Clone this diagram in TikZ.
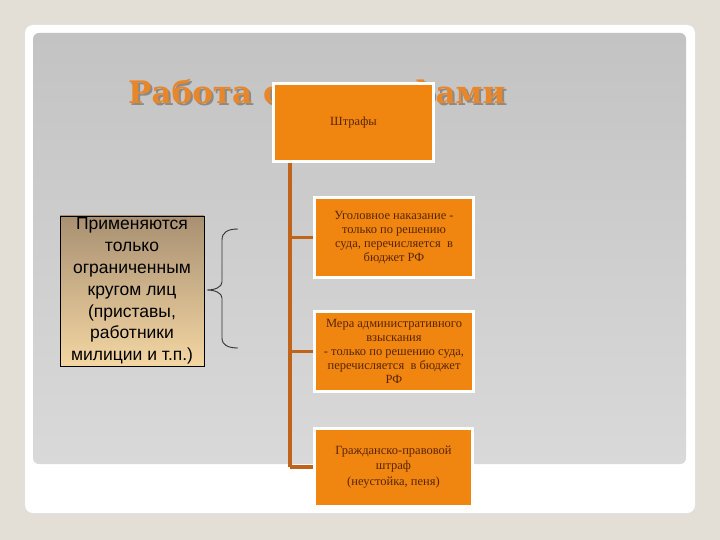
\documentclass[tikz,border=0pt]{standalone}
\usepackage{fontspec}
\setmainfont{Liberation Serif}
\newfontfamily\arialf{Liberation Sans}
\newfontfamily\titlef{DejaVu Serif}
\usetikzlibrary{calc}
\definecolor{bgout}{HTML}{E4DFD6}
\definecolor{panelTop}{HTML}{C3C3C3}
\definecolor{panelBot}{HTML}{D9D9D9}
\definecolor{boxOrange}{HTML}{F08510}
\definecolor{boxText}{HTML}{5A2600}
\definecolor{lineBrown}{HTML}{BF6418}
\definecolor{titleOrange}{HTML}{E8862A}
\definecolor{titleShadow}{HTML}{8A8A8A}
\definecolor{tanTop}{HTML}{A89072}
\definecolor{tanBot}{HTML}{F4D6A2}
\tikzset{
  obox/.style={draw=white, line width=3pt, fill=boxOrange, text=boxText,
    align=center, font=\fontsize{12.5}{14.2}\selectfont, inner sep=0pt},
  conn/.style={draw=lineBrown, line width=3.2pt},
  bracepath/.style={draw=black!80, line width=0.9pt},
  titletext/.style={font=\titlef\bfseries\fontsize{31}{36}\selectfont, anchor=west, inner sep=0pt}
}
\begin{document}
\begin{tikzpicture}[x=1pt,y=-1pt]
\useasboundingbox (0,0) rectangle (720,540);
\fill[bgout] (0,0) rectangle (720,540);
% slide frame
\fill[black!12, rounded corners=8pt] (24,24) rectangle (696,514);
\fill[white, rounded corners=8pt] (25,25) rectangle (695,513);
\shade[top color=panelTop, bottom color=panelBot, rounded corners=6pt] (33,33) rectangle (686,464);
% title (partly covered)
\node[titletext, text=titleShadow] at (130,97) {Работа со штрафами};
\node[titletext, text=titleOrange] (title) at (128,95) {Работа со штрафами};
% root box
\node[obox, minimum width=160pt, minimum height=78pt] (root) at (353.5,122.5) {Штрафы};
% child boxes
\node[obox, minimum width=159pt, minimum height=80pt] (b1) at (394,237.5)
  {Уголовное наказание -\\только по решению\\суда, перечисляется \ в\\бюджет РФ};
\node[obox, minimum width=159pt, minimum height=80pt] (b2) at (394,351.5)
  {Мера административного\\взыскания\\- только по решению суда,\\перечисляется \ в бюджет\\РФ};
\node[obox, minimum width=158pt, minimum height=78pt, font=\fontsize{12.5}{15.5}\selectfont] (b3) at (393.5,467)
  {Гражданско-правовой\\штраф\\(неустойка, пеня)};
% connectors
\coordinate (trunkTop) at (290,163);
\coordinate (trunkBot) at (290,467);
\draw[conn] (trunkTop) -- (trunkBot);
\draw[conn] (trunkTop |- b1.west) -- (b1.west);
\draw[conn] (trunkTop |- b2.west) -- (b2.west);
\draw[conn] (trunkBot) -- (b3.west);
% left box
\shade[top color=tanTop, bottom color=tanBot] (60,216) rectangle (204,366);
\node[draw=black, line width=0.9pt, minimum width=144pt, minimum height=150pt, inner sep=0pt,
  align=center, font=\arialf\fontsize{17.5}{21.8}\selectfont] (left) at (132,291)
  {Применяются\\только\\ограниченным\\кругом лиц\\(приставы,\\работники\\милиции и т.п.)};
% brace
\coordinate (brTop) at (238,229);
\coordinate (brMid) at (207,290);
\coordinate (brBot) at (238,348);
\draw[bracepath] (brTop) .. controls (228,229) and (222,232) .. (222,240) -- (222,282)
  .. controls (222,287) and (215,290) .. (brMid)
  .. controls (215,290) and (222,293) .. (222,298) -- (222,338)
  .. controls (222,345) and (228,348) .. (brBot);
\end{tikzpicture}
\end{document}
